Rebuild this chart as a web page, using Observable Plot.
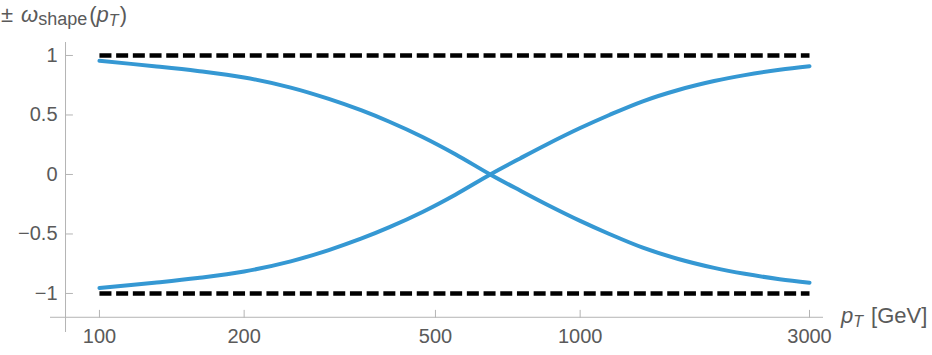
<!DOCTYPE html>
<html><head><meta charset="utf-8">
<script src="https://cdn.jsdelivr.net/npm/d3@7"></script>
<script src="https://cdn.jsdelivr.net/npm/@observablehq/plot@0.6"></script>
<style>
body{margin:0;background:#fff;}
#chart svg{display:block;}
</style>
</head><body><div id="chart"></div>
<script>
// ---- data ----
const pT = [100, 130, 160, 200, 250, 300, 350, 400, 470, 550, 650, 750, 850, 1000, 1150, 1350, 1600, 1900, 2200, 2600, 3000];
const omegaPlus  = [0.955, 0.91, 0.87, 0.815, 0.73, 0.635, 0.54, 0.445, 0.315, 0.17, 0.0, -0.135, -0.25, -0.39, -0.50, -0.615, -0.71, -0.785, -0.835, -0.88, -0.91];
const omegaMinus = [-0.955, -0.91, -0.87, -0.815, -0.73, -0.635, -0.54, -0.445, -0.315, -0.17, 0.0, 0.135, 0.25, 0.39, 0.50, 0.615, 0.71, 0.785, 0.835, 0.88, 0.91];
const boundPT = [100, 3000];
const boundLevels = [1, -1];
const xTicks = [100, 200, 500, 1000, 3000];
const xTickLabels = ["100", "200", "500", "1000", "3000"];
const yTicks = [-1, -0.5, 0, 0.5, 1];
const yTickLabels = ["\u22121", "\u22120.5", "0", "0.5", "1"];
const xAxisAt = -1.2;   // y value where the horizontal axis crosses
const yAxisAt = 85;     // pT value where the vertical axis crosses
const xDomain = [79.1, 3208];
const yDomain = [-1.328, 1.109];

// ---- tables built from the arrays ----
const curves = [
  ...pT.map((p, i) => ({pT: p, w: omegaPlus[i], s: "plus"})),
  ...pT.map((p, i) => ({pT: p, w: omegaMinus[i], s: "minus"}))
];
const bounds = boundLevels.flatMap(l => boundPT.map(p => ({pT: p, w: l, s: String(l)})));

const axisColor = "#b4b4b4";
const textColor = "#5a5a5a";
const font = "'Liberation Sans', Arial, sans-serif";
const tickShape = {draw(ctx, l) { ctx.moveTo(0, 0); ctx.lineTo(0, -l); }};

const chart = Plot.plot({
  width: 932,
  height: 355,
  marginLeft: 50,
  marginRight: 109,
  marginTop: 42,
  marginBottom: 23,
  style: {fontFamily: font, background: "#fff", overflow: "visible"},
  x: {type: "log", domain: xDomain, axis: null},
  y: {domain: yDomain, axis: null},
  marks: [
    Plot.ruleY([xAxisAt], {stroke: axisColor, strokeWidth: 1}),
    Plot.ruleX([yAxisAt], {stroke: axisColor, strokeWidth: 1}),
    Plot.vector(xTicks, {x: d => d, y: xAxisAt, length: 7, rotate: 0, anchor: "start", shape: tickShape, stroke: axisColor, strokeWidth: 1}),
    Plot.vector(yTicks, {x: yAxisAt, y: d => d, length: 7, rotate: 90, anchor: "start", shape: tickShape, stroke: axisColor, strokeWidth: 1}),
    Plot.text(xTicks, {x: d => d, y: xAxisAt, dy: 19, text: (d, i) => xTickLabels[i], fontSize: 20, fill: textColor}),
    Plot.text(yTicks, {x: yAxisAt, y: d => d, dx: -8, textAnchor: "end", text: (d, i) => yTickLabels[i], fontSize: 20, fill: textColor}),
    Plot.line(bounds, {x: "pT", y: "w", z: "s", stroke: "black", strokeWidth: 4.5, strokeDasharray: "12,4.7", strokeLinecap: "butt"}),
    Plot.line(curves, {x: "pT", y: "w", z: "s", stroke: "#3598d3", strokeWidth: 4, curve: "catmull-rom"})
  ]
});

const svg = d3.select(chart);
// y-axis label
const yl = svg.append("text").attr("x", 1).attr("y", 22).attr("text-anchor", "start")
  .attr("fill", textColor).attr("font-family", font).attr("font-size", 22);
yl.append("tspan").text("\u00b1");
yl.append("tspan").attr("font-style", "italic").attr("dx", 8).text("\u03c9");
yl.append("tspan").attr("font-size", 18).attr("dy", 3).text("shape");
yl.append("tspan").attr("dy", -3).attr("dx", 2).text("(");
yl.append("tspan").attr("font-style", "italic").text("p");
yl.append("tspan").attr("font-style", "italic").attr("font-size", 16).attr("dy", 4).text("T");
yl.append("tspan").attr("dy", -4).attr("dx", 1).text(")");
// x-axis label
const xl = svg.append("text").attr("x", 841).attr("y", 323).attr("text-anchor", "start")
  .attr("fill", textColor).attr("font-family", font).attr("font-size", 22);
xl.append("tspan").attr("font-style", "italic").text("p");
xl.append("tspan").attr("font-style", "italic").attr("font-size", 16).attr("dy", 4).text("T");
xl.append("tspan").attr("dy", -4).attr("dx", 8).text("[GeV]");

document.getElementById("chart").appendChild(chart);
</script>
</body></html>
